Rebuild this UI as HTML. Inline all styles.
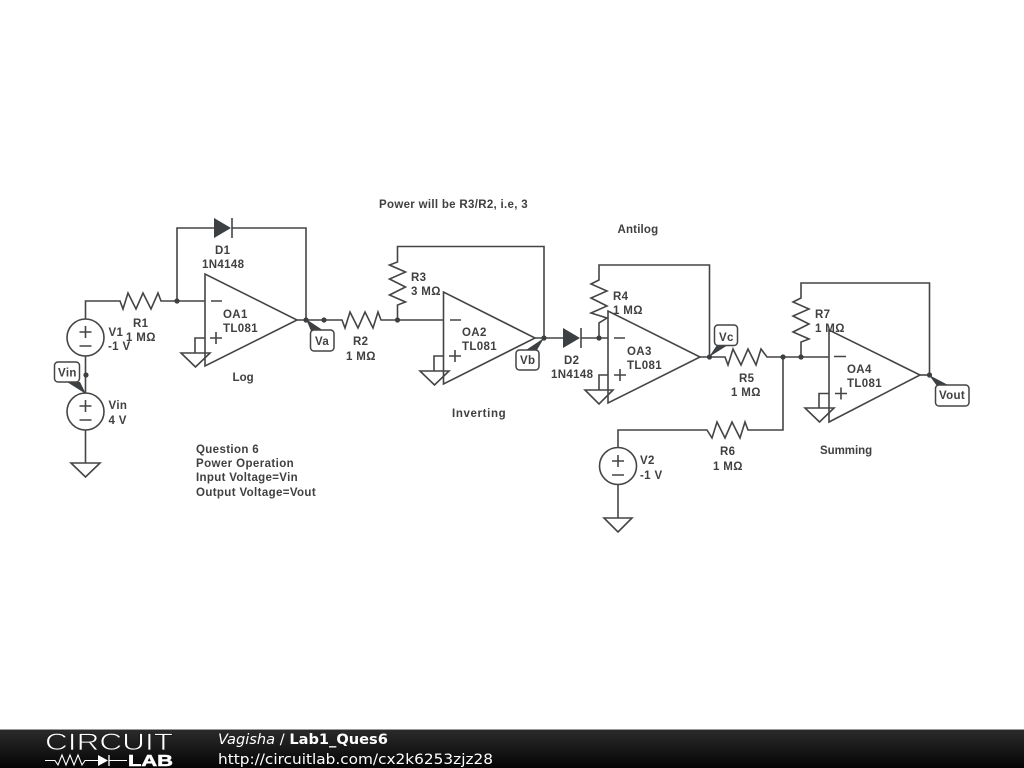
<!DOCTYPE html>
<html>
<head>
<meta charset="utf-8">
<style>
html,body{margin:0;padding:0;background:#fff;width:1024px;height:768px;overflow:hidden}
svg{display:block}
.w{fill:none;stroke:#444;stroke-width:1.6;stroke-linejoin:miter}
.d{fill:#3c4043;stroke:none}
.t{font-family:"Liberation Sans",sans-serif;font-weight:bold;font-size:11.5px;fill:#404040;letter-spacing:.35px}
.tag{fill:#fff;stroke:#444;stroke-width:1.5}
.s{fill:#fff;stroke:#444;stroke-width:1.6}
.g{fill:none;stroke:#444;stroke-width:1.6}
</style>
</head>
<body>
<svg width="1024" height="768" viewBox="0 0 1024 768" xmlns="http://www.w3.org/2000/svg">
<defs>
<linearGradient id="bar" x1="0" y1="0" x2="0" y2="1"><stop offset="0" stop-color="#2c2c2c"/><stop offset="1" stop-color="#050505"/></linearGradient>
<filter id="b" x="-2%" y="-2%" width="104%" height="104%"><feGaussianBlur stdDeviation="0.3"/></filter>
</defs>
<g filter="url(#b)">
<!-- wires and resistors -->
<path class="w" d="M85.500 320V301H120L123 309L128 293L136 309L143 293L151 309L158 293L161 301H205"/>
<path class="w" d="M177 301V228H214M232 228H306V320"/>
<path class="w" d="M297 320H342L345 328L350 312L358 328L365 312L373 328L378 312L381 320H443.500"/>
<path class="w" d="M397.500 320V305L405.500 302L389.500 295L405.500 287L389.500 279L405.500 272L389.500 265L397.500 262V246.500H544V338"/>
<path class="w" d="M535 338H563M581 338H608"/>
<path class="w" d="M599 338V323L607 318L591 313L607 306L591 298L607 291L591 284L599 280V265H709.500V357"/>
<path class="w" d="M700 357H725L728 365L733 349L741 365L748 349L756 365L761 349L767 357H829"/>
<path class="w" d="M801 357V342L809 339L793 332L809 324L793 316L809 309L793 302L801 298V283H929.500V375"/>
<path class="w" d="M783 357V430H748L745 422L740 438L732 422L725 438L717 422L712 438L707 430H618V447"/>
<path class="w" d="M85.500 356V393M85.500 430V463M618 485V518"/>
<path class="w" d="M920 375H930"/>

<!-- sources -->
<circle class="s" cx="85.500" cy="337.500" r="18.500"/>
<circle class="s" cx="85.500" cy="411.500" r="18.500"/>
<circle class="s" cx="618" cy="466" r="18.500"/>
<path class="w" d="M85.500 326V338M79.500 332H91.500M79.500 346H91.500"/>
<path class="w" d="M85.500 400V412M79.500 406H91.500M79.500 420H91.500"/>
<path class="w" d="M618 455V467M612 461H624M612 475H624"/>

<!-- grounds -->
<path class="g" d="M71 463H100L85.500 477Z"/>
<path class="g" d="M604 518H632L618 532Z"/>
<path class="w" d="M205 338H195V353M443.500 356H434V371M608 375H599V390M829 393.500H819V408"/>
<path class="g" d="M181 353H210L195.500 367Z"/>
<path class="g" d="M420 371H449L434.500 385Z"/>
<path class="g" d="M585 390H613L599 404Z"/>
<path class="g" d="M805 408H834L819.500 422Z"/>

<!-- op amps -->
<path class="g" d="M205 274V366L297 320Z"/>
<path class="g" d="M443.500 292V384L535 338Z"/>
<path class="g" d="M608 311V403L700 357Z"/>
<path class="g" d="M829 330V422L920 375Z"/>
<path class="w" d="M211 301H222M216 332V344M210 338H222"/>
<path class="w" d="M450 320H461M455 350V362M449 356H461"/>
<path class="w" d="M614 338H625M620 369V381M614 375H626"/>
<path class="w" d="M834 356.500H846M841 387.500V399.500M835 393.500H847"/>

<!-- diodes -->
<path class="d" d="M214 218V238L231 228Z"/>
<path class="w" d="M232 218V238"/>
<path class="d" d="M563 328V348L580 338Z"/>
<path class="w" d="M581 328V348"/>

<!-- dots -->
<g fill="#3c4043">
<circle cx="177" cy="301" r="2.600"/>
<circle cx="306" cy="320" r="2.600"/>
<circle cx="324" cy="320" r="2.600"/>
<circle cx="397.500" cy="320" r="2.600"/>
<circle cx="544" cy="338" r="2.600"/>
<circle cx="599" cy="338" r="2.600"/>
<circle cx="709.500" cy="357" r="2.600"/>
<circle cx="783" cy="357" r="2.600"/>
<circle cx="801" cy="357" r="2.600"/>
<circle cx="929.500" cy="375" r="2.600"/>
<circle cx="86" cy="375" r="2.600"/>
</g>

<!-- net tag pointers -->
<path class="d" d="M306 319L324 331H311Z"/>
<path class="d" d="M544 338L537 350H526Z"/>
<path class="d" d="M709 357L717 345H728Z"/>
<path class="d" d="M929 375L950 386H937Z"/>
<path class="d" d="M86 394L67 382H80Z"/>

<!-- net tags -->
<rect class="tag" x="310.500" y="330" width="23.500" height="21" rx="3.500"/>
<rect class="tag" x="516" y="350" width="23" height="20" rx="3.500"/>
<rect class="tag" x="714.500" y="325" width="23" height="20.500" rx="3.500"/>
<rect class="tag" x="935.500" y="385" width="33.500" height="21" rx="3.500"/>
<rect class="tag" x="54.500" y="362" width="25" height="20" rx="3.500"/>
<g class="t">
<text x="315" y="345">Va</text>
<text x="520" y="364">Vb</text>
<text x="719" y="341">Vc</text>
<text x="939" y="399">Vout</text>
<text x="58" y="376.500">Vin</text>

<text x="379" y="208" textLength="149">Power will be R3/R2, i.e, 3</text>
<text x="617.500" y="233" textLength="41">Antilog</text>
<text x="215" y="254">D1</text>
<text x="202" y="268">1N4148</text>
<text x="133" y="327">R1</text>
<text x="126" y="341">1 MΩ</text>
<text x="108.500" y="336">V1</text>
<text x="108" y="350">-1 V</text>
<text x="108.500" y="409">Vin</text>
<text x="108.500" y="424">4 V</text>
<text x="223" y="318">OA1</text>
<text x="223" y="332">TL081</text>
<text x="232.500" y="381" textLength="21.500">Log</text>
<text x="353" y="345">R2</text>
<text x="346" y="360">1 MΩ</text>
<text x="411" y="281">R3</text>
<text x="411" y="295">3 MΩ</text>
<text x="462" y="336">OA2</text>
<text x="462" y="350">TL081</text>
<text x="452" y="417" textLength="54">Inverting</text>
<text x="564" y="364">D2</text>
<text x="551" y="378">1N4148</text>
<text x="613" y="300">R4</text>
<text x="613" y="314">1 MΩ</text>
<text x="627" y="355">OA3</text>
<text x="627" y="369">TL081</text>
<text x="739" y="382">R5</text>
<text x="731" y="396">1 MΩ</text>
<text x="720" y="455">R6</text>
<text x="713" y="470">1 MΩ</text>
<text x="640" y="464">V2</text>
<text x="640" y="479">-1 V</text>
<text x="815" y="318">R7</text>
<text x="815" y="332">1 MΩ</text>
<text x="847" y="373">OA4</text>
<text x="847" y="387">TL081</text>
<text x="820" y="454" textLength="52.500">Summing</text>
<text x="196" y="453" textLength="63">Question 6</text>
<text x="196" y="467" textLength="98">Power Operation</text>
<text x="196" y="481" textLength="102">Input Voltage=Vin</text>
<text x="196" y="496" textLength="120">Output Voltage=Vout</text>
</g>
</g>

<!-- footer -->
<rect x="0" y="729" width="1024" height="39" fill="url(#bar)"/>
<rect x="0" y="729" width="1024" height="1" fill="#999"/>
<g filter="url(#b)">
<text x="45" y="750" font-family="'Liberation Sans',sans-serif" font-size="24" fill="#fff" stroke="#1e1e1e" stroke-width=".7" textLength="128" lengthAdjust="spacingAndGlyphs">CIRCUIT</text>
<path d="M45 760.500H55L58 765L62 755L66 765L70 755L74 765L78 755L82 765L85 760.500H98M109 760.500H127" fill="none" stroke="#fff" stroke-width="1.100"/>
<path d="M98 755V766L108 760.500Z" fill="#fff"/>
<path d="M109 755V766" stroke="#fff" stroke-width="1.300"/>
<text x="128" y="766" font-family="'Liberation Sans',sans-serif" font-weight="bold" font-size="15.500" fill="#fff" stroke="#fff" stroke-width=".5" textLength="45" lengthAdjust="spacingAndGlyphs">LAB</text>
</g>
<text x="218" y="744" font-family="'DejaVu Sans',sans-serif" font-size="14.600" fill="#fff"><tspan font-style="italic">Vagisha</tspan> / <tspan font-weight="bold">Lab1_Ques6</tspan></text>
<text x="218" y="764" font-family="'DejaVu Sans',sans-serif" font-size="14.500" fill="#fff" textLength="275" lengthAdjust="spacingAndGlyphs">http://circuitlab.com/cx2k6253zjz28</text>
</svg>
</body>
</html>
